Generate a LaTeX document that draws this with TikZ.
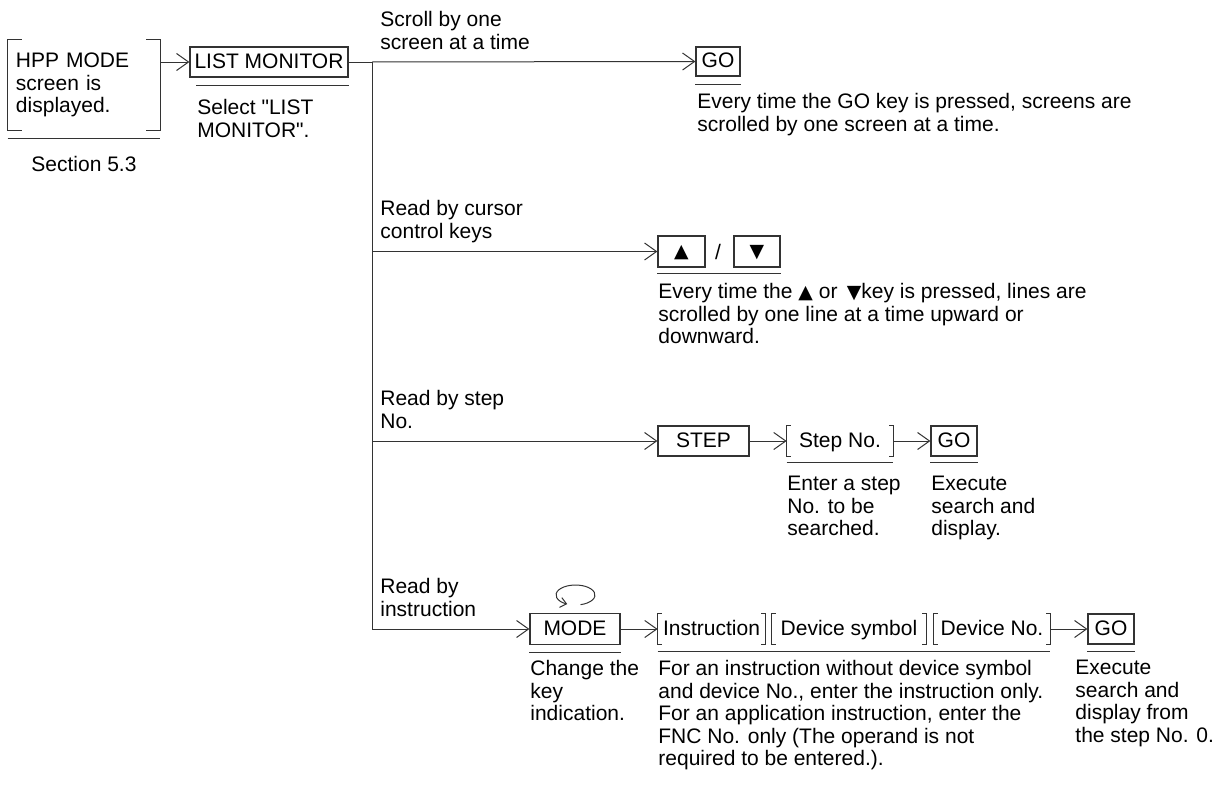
\documentclass[tikz,border=0pt]{standalone}
\usepackage{fontspec}
\setmainfont{Liberation Sans}
\newfontfamily\symfont[Scale=0.9]{DejaVu Sans}
\usetikzlibrary{arrows.meta,positioning}
% straight double quote, past the TeX mapping
\newcommand{\dq}{\XeTeXglyph\XeTeXcharglyph"22\relax}

\tikzset{
  line/.style={draw=black!80, line width=0.5pt},
  arr/.style={line, -{Straight Barb[length=6pt,width=8.5pt]}},
  keybox/.style={draw=black!80, line width=0.6pt, inner sep=1pt, minimum height=15pt, text height=7.6pt, text depth=1.6pt},
  brbox/.style={inner sep=1pt, minimum height=15pt, text height=7.6pt, text depth=1.6pt},
  uline/.style={draw=black!80, line width=0.6pt},
  caption/.style={anchor=north west, align=left, inner sep=0pt},
}

% open brackets on both sides of a node
\newcommand{\drawbrackets}[2]{%
  \draw[line] ([xshift=#2]#1.north west) -- (#1.north west) -- (#1.south west) -- ([xshift=#2]#1.south west);
  \draw[line] ([xshift=-#2]#1.north east) -- (#1.north east) -- (#1.south east) -- ([xshift=-#2]#1.south east);}

\begin{document}
\begin{tikzpicture}[x=0.5pt, y=-0.5pt, font=\fontsize{10.5}{11.25}\selectfont]
\useasboundingbox (0,0) rectangle (1226,787);

% start
\node[inner sep=1pt, minimum width=76pt, minimum height=45pt, text width=68pt, align=left] (hpp) at (84,85) {HPP MODE\\screen is\\displayed.};
\drawbrackets{hpp}{7pt}
\draw[uline] ([yshift=-4pt]hpp.south west) -- ([yshift=-4pt]hpp.south east);
\node[anchor=north] (sec) at (84,149) {Section 5.3};

\node[keybox, minimum width=79pt] (lm) at (269,62) {LIST MONITOR};
\draw[arr] (hpp.east |- lm.west) -- (lm.west);
\draw[uline] ([xshift=3.5pt,yshift=-4pt]lm.south west) -- ([yshift=-4pt]lm.south east);
\node[caption] (sel) at (197,99) {Select \dq LIST\\MONITOR\dq.};

% trunk
\coordinate (j1) at (372,62);
\coordinate (j2) at (372,251.5);
\coordinate (j3) at (372,441);
\coordinate (j4) at (372,629);
\draw[line] (lm.east) -- (j1) -- (j4);

% scroll
\node[caption] (lab1) at (380,11) {Scroll by one\\screen at a time};
\node[keybox, minimum width=22pt, minimum height=14.5pt] (go1) at (718,61.5) {GO};
\draw[arr] (j1) -- (go1.west);
\draw[uline] ([yshift=-4pt]go1.south west) -- ([yshift=-4pt]go1.south east);
\node[caption] (txt1) at (697,93) {Every time the GO key is pressed, screens are\\scrolled by one screen at a time.};

% cursor keys
\node[caption] (lab2) at (380,200) {Read by cursor\\control keys};
\node[keybox, minimum width=23.5pt, minimum height=15.5pt] (up) at (681.5,251.5) {\symfont ▲};
\node (sl) at (718,251.5) {/};
\node[keybox, minimum width=23pt, minimum height=15.5pt] (down) at (757,251.5) {\symfont ▼};
\draw[arr] (j2) -- (up.west);
\draw[uline] ([yshift=-3pt]up.south west) -- ([yshift=-3pt]down.south east);
\node[caption] (txt2) at (658,283) {Every time the {\symfont ▲} or\, {\symfont ▼}key is pressed, lines are\\scrolled by one line at a time upward or\\downward.};

% step No.
\node[caption] (lab3) at (380,390) {Read by step\\No.};
\node[keybox, minimum width=45.5pt] (stp) at (703.5,441) {STEP};
\node[brbox, minimum width=53pt] (stno) at (840,441) {Step No.};
\drawbrackets{stno}{2pt}
\node[keybox, minimum width=23pt] (go3) at (954,441) {GO};
\draw[arr] (j3) -- (stp);
\draw[arr] (stp) -- (stno);
\draw[arr] (stno) -- (go3);
\draw[uline] ([yshift=-3pt]stno.south west) -- ([yshift=-3pt]stno.south east);
\draw[uline] ([yshift=-3pt]go3.south west) -- ([yshift=-3pt]go3.south east);
\node[caption] (txt3a) at (787,476) {Enter a step\\No. to be\\searched.};
\node[caption] (txt3b) at (931,476) {Execute\\search and\\display.};

% instruction
\node[caption] (lab4) at (380,578) {Read by\\instruction};
\node[keybox, minimum width=45pt, minimum height=15.5pt] (mode) at (575,629) {MODE};
\coordinate (lc) at (575.5,595);
\draw[line, -{Straight Barb[length=3pt,width=5pt]}] (lc) ++(-75:9.75pt and 5pt) arc[start angle=-75, end angle=245, x radius=9.75pt, y radius=5pt];
\node[brbox, minimum width=53.5pt] (instr) at (711.5,629) {Instruction};
\node[brbox, minimum width=77pt] (devs) at (849,629) {Device symbol};
\node[brbox, minimum width=58pt] (devn) at (992,629) {Device No.};
\drawbrackets{instr}{2pt}
\drawbrackets{devs}{2pt}
\drawbrackets{devn}{2pt}
\node[keybox, minimum width=23pt] (go4) at (1111,629) {GO};
\draw[arr] (j4) -- (mode);
\draw[arr] (mode) -- (instr);
\draw[arr] (devn) -- (go4);
\draw[uline] ([yshift=-3.5pt]mode.south west) -- ([yshift=-3.5pt]mode.south east);
\draw[uline] ([yshift=-3.5pt]instr.south west) -- ([yshift=-3.5pt]devn.south east);
\draw[uline] ([yshift=-3.5pt]go4.south west) -- ([yshift=-3.5pt]go4.south east);
\node[caption] (txt4a) at (530,660) {Change the\\key\\indication.};
\node[caption] (txt4b) at (658,660) {For an instruction without device symbol\\and device No., enter the instruction only.\\For an application instruction, enter the\\FNC No. only (The operand is not\\required to be entered.).};
\node[caption] (txt4c) at (1075,660) {Execute\\search and\\display from\\the step No. 0.};
\end{tikzpicture}
\end{document}
